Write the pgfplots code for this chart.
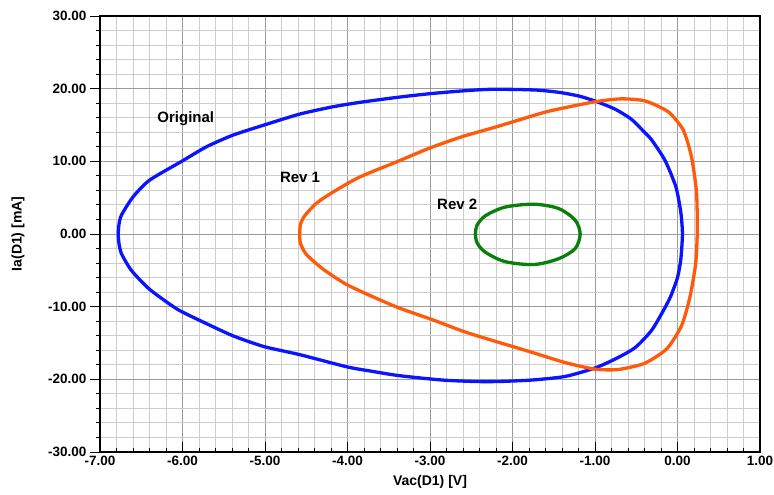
\documentclass[border=0pt]{standalone}
\usepackage{pgfplots}
\pgfplotsset{compat=1.18}
\usepackage{fontspec}
\setmainfont{Liberation Sans}

\definecolor{origblue}{HTML}{0A14FF}
\definecolor{revorange}{HTML}{FF5A0A}
\definecolor{revgreen}{HTML}{0A800A}
\definecolor{majgrid}{HTML}{9A9A9A}
\definecolor{mingrid}{HTML}{CDCDCD}

\begin{document}
\begin{tikzpicture}
\begin{axis}[
  at={(0pt,0pt)}, anchor=south west,
  scale only axis, width=660pt, height=436pt,
  xmin=-7, xmax=1, ymin=-30, ymax=30,
  xtick={-7,-6,...,1}, ytick={-30,-20,...,30},
  minor x tick num=4, minor y tick num=4,
  grid=both,
  major grid style={draw=majgrid, line width=0.9pt},
  minor grid style={draw=mingrid, line width=0.9pt},
  axis line style={line width=1.6pt, black},
  xtick align=inside, ytick align=outside,
  major tick length=10pt, minor tick length=4pt,
  every tick/.style={black, line width=0.9pt},
  xtick pos=bottom, ytick pos=left,
  tick label style={font=\fontsize{13.5}{14}\selectfont\bfseries},
  /pgf/number format/assume math mode=true,
  /pgf/number format/.cd, fixed, fixed zerofill, precision=2,
  /pgfplots/.cd,
  xticklabel style={yshift=-1pt},
  xlabel={Vac(D1) [V]}, ylabel={Ia(D1) [mA]},
  label style={font=\fontsize{14}{16}\selectfont\bfseries},
  xlabel style={at={(axis description cs:0.5,-0.0688)}, anchor=center},
  ylabel style={at={(axis description cs:-0.1242,0.5)}, anchor=center},
  clip=true,
]
% Original
\addplot[origblue, line width=3.3pt, smooth, tension=0.4] coordinates {
(-6.78,0) (-6.77,1.3) (-6.74,2.6) (-6.60,5.1) (-6.40,7.4) (-6.01,10.0) (-5.71,12.0)
(-5.39,13.6) (-5.01,15.0) (-4.58,16.5) (-4.18,17.5) (-3.86,18.1) (-3.40,18.8)
(-3.01,19.3) (-2.60,19.7) (-2.30,19.9) (-2.00,19.9) (-1.70,19.8) (-1.44,19.5)
(-1.20,19.0) (-1.00,18.3) (-0.76,17.2) (-0.56,15.8) (-0.40,14.0) (-0.31,12.9)
(-0.15,10.1) (-0.02,6.5) (0.04,3.0) (0.06,0) (0.04,-3.5) (0.00,-6.0)
(-0.08,-8.5) (-0.15,-10.1) (-0.31,-13.2) (-0.51,-15.6) (-0.72,-17.0) (-0.99,-18.4)
(-1.36,-19.6) (-1.77,-20.1) (-2.17,-20.3) (-2.45,-20.3) (-2.85,-20.1) (-3.37,-19.5)
(-3.70,-18.9) (-4.00,-18.3) (-4.58,-16.6) (-5.01,-15.5) (-5.39,-14.0) (-5.79,-11.9)
(-6.07,-10.3) (-6.40,-7.6) (-6.62,-5.0) (-6.74,-2.7) (-6.77,-1.3) (-6.78,0)
};
% Rev 1
\addplot[revorange, line width=3.3pt, smooth, tension=0.4] coordinates {
(-4.58,0) (-4.57,1.3) (-4.52,2.5) (-4.38,4.2) (-4.20,5.6) (-3.86,7.8) (-3.41,9.9)
(-3.01,11.8) (-2.61,13.4) (-2.21,14.7) (-1.92,15.7) (-1.56,16.9) (-1.00,18.2)
(-0.68,18.6) (-0.39,18.3) (-0.11,16.8) (0.07,14.3) (0.17,10.6) (0.23,5.8)
(0.24,0.5) (0.22,-4.1) (0.15,-8.7) (0.05,-12.6) (-0.13,-15.8) (-0.40,-17.8)
(-0.72,-18.65) (-1.00,-18.6) (-1.36,-17.7) (-1.76,-16.3) (-2.17,-14.9) (-2.57,-13.5)
(-2.97,-11.8) (-3.37,-10.2) (-3.70,-8.6) (-4.02,-6.9) (-4.30,-4.8) (-4.50,-2.8)
(-4.57,-1.3) (-4.58,0)
};
% Rev 2
\addplot[revgreen, line width=3.3pt, smooth, tension=0.5] coordinates {
(-2.45,0) (-2.43,1.2) (-2.33,2.5) (-2.09,3.7) (-1.74,4.1) (-1.44,3.5) (-1.24,1.9)
(-1.18,0) (-1.24,-2.0) (-1.44,-3.4) (-1.74,-4.2) (-2.09,-3.8) (-2.33,-2.5)
(-2.43,-1.2) (-2.45,0)
};
\node[font=\fontsize{15}{16}\selectfont\bfseries] at (axis cs:-5.96,15.9) {Original};
\node[font=\fontsize{15}{16}\selectfont\bfseries] at (axis cs:-4.575,7.83) {Rev 1};
\node[font=\fontsize{15}{16}\selectfont\bfseries] at (axis cs:-2.67,4.07) {Rev 2};
\end{axis}
\pgfresetboundingbox
\path[use as bounding box] (-100pt,-43pt) rectangle (674pt,452pt);
\end{tikzpicture}
\end{document}
